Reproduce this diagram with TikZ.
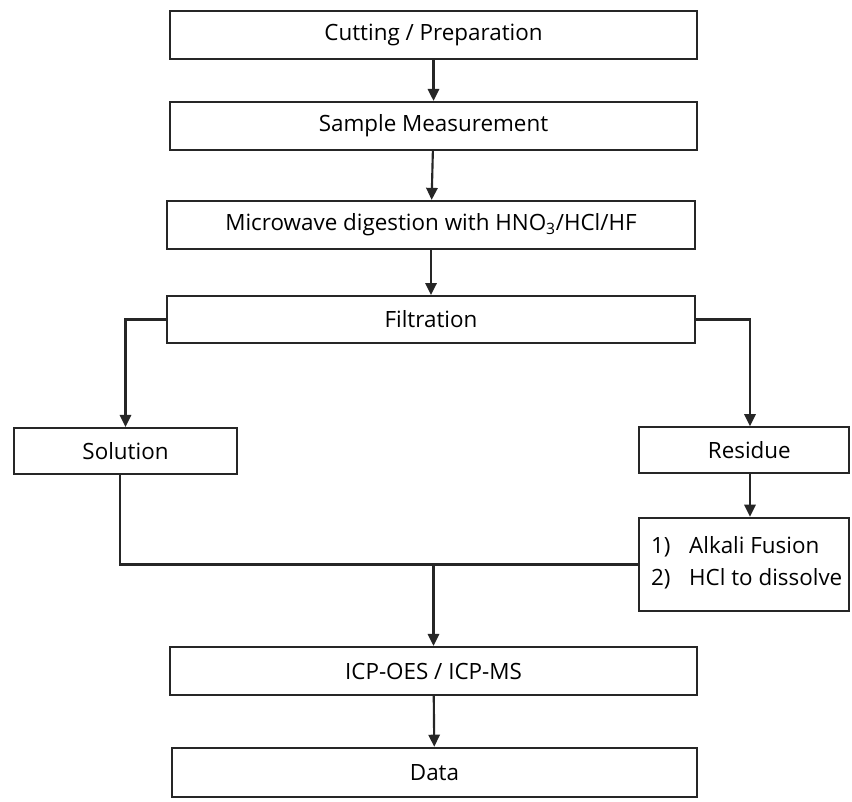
\documentclass[tikz,border=0pt]{standalone}
\usepackage{fontspec}
\setmainfont{Open Sans}
\usetikzlibrary{arrows.meta}
\begin{document}
\begin{tikzpicture}[x=0.75pt,y=-0.75pt,
  box/.style={draw=black!85, line width=1.7pt, fill=white, minimum height=36pt, inner sep=0pt, font=\fontsize{16.8}{20}\selectfont},
  conn/.style={draw=black!85, line width=1.6pt},
  arr/.style={conn, -{Triangle[width=8.5pt,length=9pt]}}]
\useasboundingbox (0,0) rectangle (852,801);
\fill[white] (0,0) rectangle (852,801);
\node[box, minimum width=395pt] (cut) at (433.5,35) {Cutting / Preparation};
\node[box, minimum width=395pt] (samp) at (433.5,126) {Sample Measurement};
\node[box, minimum width=396pt] (micro) at (431,225) {Microwave digestion with HNO\textsubscript{3}/HCl/HF};
\node[box, minimum width=396pt, minimum height=35pt] (filt) at (431,319.5) {Filtration};
\node[box, minimum width=167pt, minimum height=34.5pt] (sol) at (125.5,451) {Solution};
\node[box, minimum width=158pt, minimum height=34pt] (res) at (744,450) {\hspace{8pt}Residue};
\node[box, minimum width=158pt, minimum height=70pt, align=left] (alk) at (744,564.5)
  {\hspace{4pt}\raisebox{-2.2pt}{\begin{tabular}{@{}l@{\hspace{14pt}}l@{}}1) & Alkali Fusion\\[4pt] 2) & HCl to dissolve\end{tabular}}};
\node[box, minimum width=395pt] (icp) at (433.5,671) {ICP-OES / ICP-MS};
\node[box, minimum width=394pt, minimum height=37pt] (data) at (434.5,772.5) {Data};
\draw[arr] (cut) -- (samp);
\draw[arr] (samp) -- (micro);
\draw[arr] (micro) -- (filt);
\draw[arr] (filt.west) -| (sol.north);
\coordinate (rx) at (750,0);
\draw[arr] (filt.east) -| (rx |- res.north);
\draw[arr] (rx |- res.south) -- (rx |- alk.north);
\draw[conn] ([xshift=-4.1pt]sol.south) |- (alk.west);
\coordinate (j) at (icp.north |- alk.west);
\draw[arr] (j) -- (icp.north);
\draw[arr] (icp) -- (data);
\end{tikzpicture}
\end{document}
